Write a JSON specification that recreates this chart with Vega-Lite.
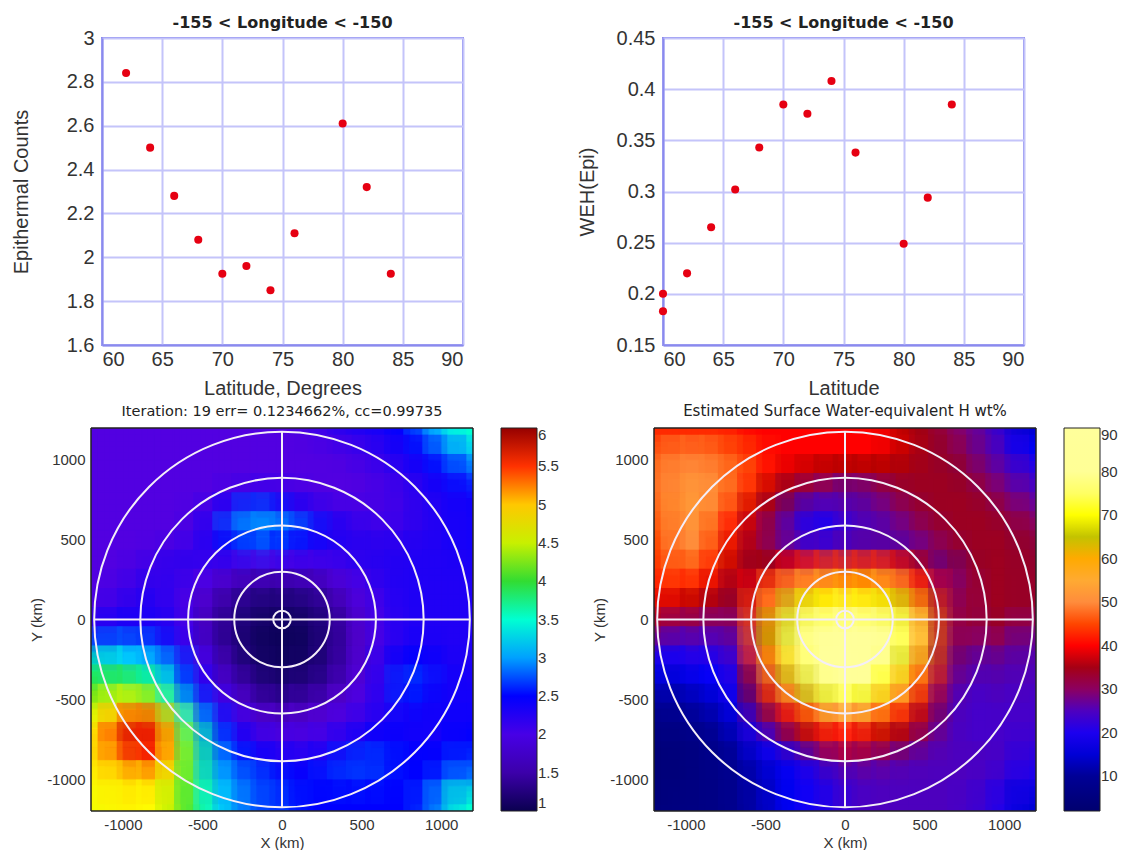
{"$schema":"https://vega.github.io/schema/vega-lite/v6.json","background":"white","padding":{"left":10,"top":14,"right":0,"bottom":0},"spacing":390,"bounds":"flush",
"config":{"font":"Liberation Sans","view":{"stroke":null},"axis":{"labelColor":"#333","titleColor":"#333","titleFontWeight":"normal"},"title":{"font":"DejaVu Sans","fontWeight":"bold","color":"#222"}},
"datasets":{"a":[{"lat":62,"c":2.84},{"lat":64,"c":2.5},{"lat":66,"c":2.28},{"lat":68,"c":2.08},{"lat":70,"c":1.925},{"lat":72,"c":1.96},{"lat":74,"c":1.85},{"lat":76,"c":2.11},{"lat":80,"c":2.61},{"lat":82,"c":2.32},{"lat":84,"c":1.925}],
"b":[{"lat":60,"w":0.2},{"lat":60,"w":0.183},{"lat":62,"w":0.22},{"lat":64,"w":0.265},{"lat":66,"w":0.302},{"lat":68,"w":0.343},{"lat":70,"w":0.385},{"lat":72,"w":0.376},{"lat":74,"w":0.408},{"lat":76,"w":0.338},{"lat":80,"w":0.249},{"lat":82,"w":0.294},{"lat":84,"w":0.385}],
"rings":[{"r":55},{"r":300},{"r":590},{"r":890},{"r":1180}],
"grid":[
{"x":-1140,"y":1140,"e":1.9,"w":42},{"x":-1020,"y":1140,"e":1.9,"w":42},{"x":-900,"y":1140,"e":1.9,"w":42},{"x":-780,"y":1140,"e":1.9,"w":42},{"x":-660,"y":1140,"e":1.9,"w":41},{"x":-540,"y":1140,"e":1.9,"w":40},{"x":-420,"y":1140,"e":1.9,"w":40},{"x":-300,"y":1140,"e":1.9,"w":40},{"x":-180,"y":1140,"e":1.9,"w":40},{"x":-60,"y":1140,"e":1.9,"w":40},{"x":60,"y":1140,"e":1.9,"w":40},{"x":180,"y":1140,"e":2.0,"w":40},{"x":300,"y":1140,"e":2.1,"w":39},{"x":420,"y":1140,"e":2.2,"w":36},{"x":540,"y":1140,"e":2.3,"w":34},{"x":660,"y":1140,"e":2.4,"w":31},{"x":780,"y":1140,"e":2.5,"w":29},{"x":900,"y":1140,"e":2.8,"w":27},{"x":1020,"y":1140,"e":3.2,"w":22},{"x":1140,"y":1140,"e":3.5,"w":15},
{"x":-1140,"y":1020,"e":1.9,"w":47},{"x":-1020,"y":1020,"e":1.9,"w":48},{"x":-900,"y":1020,"e":1.9,"w":48},{"x":-780,"y":1020,"e":1.9,"w":47},{"x":-660,"y":1020,"e":1.9,"w":44},{"x":-540,"y":1020,"e":1.9,"w":42},{"x":-420,"y":1020,"e":1.9,"w":40},{"x":-300,"y":1020,"e":1.9,"w":40},{"x":-180,"y":1020,"e":1.9,"w":40},{"x":-60,"y":1020,"e":1.9,"w":40},{"x":60,"y":1020,"e":1.9,"w":40},{"x":180,"y":1020,"e":1.9,"w":40},{"x":300,"y":1020,"e":1.95,"w":39},{"x":420,"y":1020,"e":2.0,"w":37},{"x":540,"y":1020,"e":2.1,"w":34},{"x":660,"y":1020,"e":2.2,"w":32},{"x":780,"y":1020,"e":2.4,"w":30},{"x":900,"y":1020,"e":2.5,"w":28},{"x":1020,"y":1020,"e":2.8,"w":24},{"x":1140,"y":1020,"e":3.1,"w":18},
{"x":-1140,"y":900,"e":1.9,"w":48},{"x":-1020,"y":900,"e":1.9,"w":50},{"x":-900,"y":900,"e":1.9,"w":50},{"x":-780,"y":900,"e":1.9,"w":49},{"x":-660,"y":900,"e":1.9,"w":47},{"x":-540,"y":900,"e":1.9,"w":43},{"x":-420,"y":900,"e":1.9,"w":40},{"x":-300,"y":900,"e":1.9,"w":38},{"x":-180,"y":900,"e":1.9,"w":37},{"x":-60,"y":900,"e":1.9,"w":36},{"x":60,"y":900,"e":1.9,"w":36},{"x":180,"y":900,"e":1.9,"w":36},{"x":300,"y":900,"e":1.9,"w":36},{"x":420,"y":900,"e":1.9,"w":35},{"x":540,"y":900,"e":2.0,"w":34},{"x":660,"y":900,"e":2.1,"w":33},{"x":780,"y":900,"e":2.2,"w":32},{"x":900,"y":900,"e":2.4,"w":29},{"x":1020,"y":900,"e":2.5,"w":27},{"x":1140,"y":900,"e":2.7,"w":23},
{"x":-1140,"y":780,"e":1.9,"w":48},{"x":-1020,"y":780,"e":1.9,"w":51},{"x":-900,"y":780,"e":1.9,"w":52},{"x":-780,"y":780,"e":1.9,"w":50},{"x":-660,"y":780,"e":1.9,"w":46},{"x":-540,"y":780,"e":1.9,"w":41},{"x":-420,"y":780,"e":1.9,"w":36},{"x":-300,"y":780,"e":2.0,"w":32},{"x":-180,"y":780,"e":2.05,"w":30},{"x":-60,"y":780,"e":2.1,"w":29},{"x":60,"y":780,"e":2.0,"w":28},{"x":180,"y":780,"e":1.95,"w":29},{"x":300,"y":780,"e":1.9,"w":31},{"x":420,"y":780,"e":1.9,"w":33},{"x":540,"y":780,"e":1.9,"w":34},{"x":660,"y":780,"e":2.0,"w":34},{"x":780,"y":780,"e":2.1,"w":33},{"x":900,"y":780,"e":2.2,"w":31},{"x":1020,"y":780,"e":2.4,"w":29},{"x":1140,"y":780,"e":2.45,"w":26},
{"x":-1140,"y":660,"e":1.9,"w":47},{"x":-1020,"y":660,"e":1.9,"w":52},{"x":-900,"y":660,"e":1.9,"w":52},{"x":-780,"y":660,"e":1.9,"w":49},{"x":-660,"y":660,"e":1.9,"w":43},{"x":-540,"y":660,"e":1.95,"w":37},{"x":-420,"y":660,"e":2.1,"w":32},{"x":-300,"y":660,"e":2.4,"w":28},{"x":-180,"y":660,"e":2.7,"w":23},{"x":-60,"y":660,"e":2.6,"w":24},{"x":60,"y":660,"e":2.4,"w":27},{"x":180,"y":660,"e":2.2,"w":28},{"x":300,"y":660,"e":2.05,"w":29},{"x":420,"y":660,"e":2.0,"w":31},{"x":540,"y":660,"e":2.0,"w":33},{"x":660,"y":660,"e":2.0,"w":34},{"x":780,"y":660,"e":2.1,"w":34},{"x":900,"y":660,"e":2.2,"w":33},{"x":1020,"y":660,"e":2.3,"w":31},{"x":1140,"y":660,"e":2.4,"w":29},
{"x":-1140,"y":540,"e":1.9,"w":46},{"x":-1020,"y":540,"e":1.9,"w":51},{"x":-900,"y":540,"e":1.9,"w":51},{"x":-780,"y":540,"e":1.9,"w":46},{"x":-660,"y":540,"e":1.9,"w":40},{"x":-540,"y":540,"e":2.0,"w":34},{"x":-420,"y":540,"e":2.3,"w":29},{"x":-300,"y":540,"e":2.8,"w":24},{"x":-180,"y":540,"e":3.0,"w":19},{"x":-60,"y":540,"e":3.0,"w":20},{"x":60,"y":540,"e":2.9,"w":24},{"x":180,"y":540,"e":2.6,"w":26},{"x":300,"y":540,"e":2.4,"w":27},{"x":420,"y":540,"e":2.2,"w":29},{"x":540,"y":540,"e":2.1,"w":31},{"x":660,"y":540,"e":2.1,"w":33},{"x":780,"y":540,"e":2.1,"w":34},{"x":900,"y":540,"e":2.2,"w":34},{"x":1020,"y":540,"e":2.3,"w":33},{"x":1140,"y":540,"e":2.4,"w":31},
{"x":-1140,"y":420,"e":1.9,"w":45},{"x":-1020,"y":420,"e":1.9,"w":50},{"x":-900,"y":420,"e":1.9,"w":50},{"x":-780,"y":420,"e":1.95,"w":44},{"x":-660,"y":420,"e":2.0,"w":38},{"x":-540,"y":420,"e":2.1,"w":33},{"x":-420,"y":420,"e":2.3,"w":30},{"x":-300,"y":420,"e":2.5,"w":27},{"x":-180,"y":420,"e":2.6,"w":24},{"x":-60,"y":420,"e":2.6,"w":25},{"x":60,"y":420,"e":2.5,"w":27},{"x":180,"y":420,"e":2.4,"w":28},{"x":300,"y":420,"e":2.3,"w":28},{"x":420,"y":420,"e":2.2,"w":28},{"x":540,"y":420,"e":2.2,"w":29},{"x":660,"y":420,"e":2.2,"w":31},{"x":780,"y":420,"e":2.2,"w":33},{"x":900,"y":420,"e":2.3,"w":34},{"x":1020,"y":420,"e":2.3,"w":34},{"x":1140,"y":420,"e":2.4,"w":32},
{"x":-1140,"y":300,"e":1.9,"w":43},{"x":-1020,"y":300,"e":1.9,"w":47},{"x":-900,"y":300,"e":2.0,"w":46},{"x":-780,"y":300,"e":2.1,"w":41},{"x":-660,"y":300,"e":2.2,"w":36},{"x":-540,"y":300,"e":2.15,"w":33},{"x":-420,"y":300,"e":2.1,"w":36},{"x":-300,"y":300,"e":2.0,"w":40},{"x":-180,"y":300,"e":1.9,"w":42},{"x":-60,"y":300,"e":1.9,"w":43},{"x":60,"y":300,"e":1.9,"w":43},{"x":180,"y":300,"e":1.95,"w":42},{"x":300,"y":300,"e":2.0,"w":42},{"x":420,"y":300,"e":2.1,"w":38},{"x":540,"y":300,"e":2.2,"w":32},{"x":660,"y":300,"e":2.2,"w":28},{"x":780,"y":300,"e":2.3,"w":32},{"x":900,"y":300,"e":2.3,"w":34},{"x":1020,"y":300,"e":2.3,"w":34},{"x":1140,"y":300,"e":2.3,"w":33},
{"x":-1140,"y":180,"e":1.9,"w":41},{"x":-1020,"y":180,"e":2.0,"w":43},{"x":-900,"y":180,"e":2.1,"w":41},{"x":-780,"y":180,"e":2.2,"w":38},{"x":-660,"y":180,"e":2.1,"w":33},{"x":-540,"y":180,"e":2.0,"w":40},{"x":-420,"y":180,"e":1.8,"w":47},{"x":-300,"y":180,"e":1.6,"w":52},{"x":-180,"y":180,"e":1.5,"w":56},{"x":-60,"y":180,"e":1.45,"w":58},{"x":60,"y":180,"e":1.45,"w":60},{"x":180,"y":180,"e":1.5,"w":60},{"x":300,"y":180,"e":1.6,"w":55},{"x":420,"y":180,"e":1.85,"w":48},{"x":540,"y":180,"e":2.0,"w":40},{"x":660,"y":180,"e":2.2,"w":30},{"x":780,"y":180,"e":2.3,"w":30},{"x":900,"y":180,"e":2.3,"w":34},{"x":1020,"y":180,"e":2.3,"w":34},{"x":1140,"y":180,"e":2.3,"w":33},
{"x":-1140,"y":60,"e":2.0,"w":38},{"x":-1020,"y":60,"e":2.1,"w":38},{"x":-900,"y":60,"e":2.2,"w":36},{"x":-780,"y":60,"e":2.3,"w":34},{"x":-660,"y":60,"e":2.1,"w":32},{"x":-540,"y":60,"e":1.9,"w":44},{"x":-420,"y":60,"e":1.6,"w":54},{"x":-300,"y":60,"e":1.4,"w":64},{"x":-180,"y":60,"e":1.25,"w":70},{"x":-60,"y":60,"e":1.2,"w":70},{"x":60,"y":60,"e":1.2,"w":72},{"x":180,"y":60,"e":1.25,"w":70},{"x":300,"y":60,"e":1.4,"w":68},{"x":420,"y":60,"e":1.65,"w":62},{"x":540,"y":60,"e":1.95,"w":47},{"x":660,"y":60,"e":2.1,"w":33},{"x":780,"y":60,"e":2.35,"w":30},{"x":900,"y":60,"e":2.3,"w":34},{"x":1020,"y":60,"e":2.3,"w":34},{"x":1140,"y":60,"e":2.3,"w":33},
{"x":-1140,"y":-60,"e":2.3,"w":31},{"x":-1020,"y":-60,"e":2.3,"w":30},{"x":-900,"y":-60,"e":2.4,"w":30},{"x":-780,"y":-60,"e":2.3,"w":29},{"x":-660,"y":-60,"e":2.2,"w":30},{"x":-540,"y":-60,"e":1.9,"w":46},{"x":-420,"y":-60,"e":1.5,"w":64},{"x":-300,"y":-60,"e":1.3,"w":74},{"x":-180,"y":-60,"e":1.2,"w":80},{"x":-60,"y":-60,"e":1.1,"w":82},{"x":60,"y":-60,"e":1.1,"w":82},{"x":180,"y":-60,"e":1.15,"w":82},{"x":300,"y":-60,"e":1.3,"w":78},{"x":420,"y":-60,"e":1.5,"w":72},{"x":540,"y":-60,"e":1.85,"w":52},{"x":660,"y":-60,"e":2.1,"w":35},{"x":780,"y":-60,"e":2.3,"w":30},{"x":900,"y":-60,"e":2.3,"w":33},{"x":1020,"y":-60,"e":2.3,"w":33},{"x":1140,"y":-60,"e":2.3,"w":30},
{"x":-1140,"y":-180,"e":2.8,"w":25},{"x":-1020,"y":-180,"e":2.7,"w":24},{"x":-900,"y":-180,"e":2.8,"w":24},{"x":-780,"y":-180,"e":2.6,"w":24},{"x":-660,"y":-180,"e":2.3,"w":28},{"x":-540,"y":-180,"e":2.0,"w":46},{"x":-420,"y":-180,"e":1.55,"w":64},{"x":-300,"y":-180,"e":1.3,"w":76},{"x":-180,"y":-180,"e":1.15,"w":84},{"x":-60,"y":-180,"e":1.05,"w":90},{"x":60,"y":-180,"e":1.05,"w":90},{"x":180,"y":-180,"e":1.1,"w":88},{"x":300,"y":-180,"e":1.3,"w":82},{"x":420,"y":-180,"e":1.5,"w":72},{"x":540,"y":-180,"e":1.8,"w":52},{"x":660,"y":-180,"e":2.1,"w":34},{"x":780,"y":-180,"e":2.3,"w":29},{"x":900,"y":-180,"e":2.4,"w":30},{"x":1020,"y":-180,"e":2.3,"w":30},{"x":1140,"y":-180,"e":2.3,"w":28},
{"x":-1140,"y":-300,"e":3.6,"w":18},{"x":-1020,"y":-300,"e":3.3,"w":19},{"x":-900,"y":-300,"e":3.3,"w":20},{"x":-780,"y":-300,"e":3.1,"w":20},{"x":-660,"y":-300,"e":2.8,"w":24},{"x":-540,"y":-300,"e":2.3,"w":42},{"x":-420,"y":-300,"e":1.8,"w":58},{"x":-300,"y":-300,"e":1.4,"w":72},{"x":-180,"y":-300,"e":1.2,"w":84},{"x":-60,"y":-300,"e":1.1,"w":90},{"x":60,"y":-300,"e":1.1,"w":90},{"x":180,"y":-300,"e":1.15,"w":86},{"x":300,"y":-300,"e":1.3,"w":78},{"x":420,"y":-300,"e":1.55,"w":66},{"x":540,"y":-300,"e":1.85,"w":48},{"x":660,"y":-300,"e":2.2,"w":32},{"x":780,"y":-300,"e":2.5,"w":27},{"x":900,"y":-300,"e":2.5,"w":28},{"x":1020,"y":-300,"e":2.4,"w":28},{"x":1140,"y":-300,"e":2.3,"w":26},
{"x":-1140,"y":-420,"e":4.0,"w":14},{"x":-1020,"y":-420,"e":3.9,"w":15},{"x":-900,"y":-420,"e":3.9,"w":17},{"x":-780,"y":-420,"e":3.6,"w":18},{"x":-660,"y":-420,"e":3.1,"w":22},{"x":-540,"y":-420,"e":2.5,"w":36},{"x":-420,"y":-420,"e":2.0,"w":50},{"x":-300,"y":-420,"e":1.6,"w":64},{"x":-180,"y":-420,"e":1.4,"w":76},{"x":-60,"y":-420,"e":1.2,"w":84},{"x":60,"y":-420,"e":1.2,"w":86},{"x":180,"y":-420,"e":1.3,"w":80},{"x":300,"y":-420,"e":1.4,"w":70},{"x":420,"y":-420,"e":1.65,"w":56},{"x":540,"y":-420,"e":1.9,"w":44},{"x":660,"y":-420,"e":2.3,"w":30},{"x":780,"y":-420,"e":2.6,"w":25},{"x":900,"y":-420,"e":2.6,"w":26},{"x":1020,"y":-420,"e":2.4,"w":26},{"x":1140,"y":-420,"e":2.4,"w":25},
{"x":-1140,"y":-540,"e":4.4,"w":10},{"x":-1020,"y":-540,"e":4.6,"w":11},{"x":-900,"y":-540,"e":4.6,"w":13},{"x":-780,"y":-540,"e":4.3,"w":15},{"x":-660,"y":-540,"e":3.5,"w":19},{"x":-540,"y":-540,"e":2.8,"w":32},{"x":-420,"y":-540,"e":2.3,"w":42},{"x":-300,"y":-540,"e":1.9,"w":52},{"x":-180,"y":-540,"e":1.6,"w":64},{"x":-60,"y":-540,"e":1.4,"w":72},{"x":60,"y":-540,"e":1.4,"w":74},{"x":180,"y":-540,"e":1.5,"w":68},{"x":300,"y":-540,"e":1.6,"w":57},{"x":420,"y":-540,"e":1.8,"w":48},{"x":540,"y":-540,"e":2.0,"w":38},{"x":660,"y":-540,"e":2.3,"w":28},{"x":780,"y":-540,"e":2.55,"w":24},{"x":900,"y":-540,"e":2.5,"w":24},{"x":1020,"y":-540,"e":2.4,"w":25},{"x":1140,"y":-540,"e":2.4,"w":24},
{"x":-1140,"y":-660,"e":4.8,"w":7},{"x":-1020,"y":-660,"e":5.1,"w":8},{"x":-900,"y":-660,"e":5.5,"w":10},{"x":-780,"y":-660,"e":5.3,"w":12},{"x":-660,"y":-660,"e":4.5,"w":16},{"x":-540,"y":-660,"e":3.4,"w":26},{"x":-420,"y":-660,"e":2.6,"w":33},{"x":-300,"y":-660,"e":2.2,"w":40},{"x":-180,"y":-660,"e":1.9,"w":46},{"x":-60,"y":-660,"e":1.7,"w":50},{"x":60,"y":-660,"e":1.7,"w":50},{"x":180,"y":-660,"e":1.75,"w":48},{"x":300,"y":-660,"e":1.85,"w":44},{"x":420,"y":-660,"e":2.0,"w":39},{"x":540,"y":-660,"e":2.15,"w":32},{"x":660,"y":-660,"e":2.3,"w":27},{"x":780,"y":-660,"e":2.4,"w":24},{"x":900,"y":-660,"e":2.4,"w":24},{"x":1020,"y":-660,"e":2.4,"w":24},{"x":1140,"y":-660,"e":2.45,"w":24},
{"x":-1140,"y":-780,"e":5.0,"w":5},{"x":-1020,"y":-780,"e":5.5,"w":6},{"x":-900,"y":-780,"e":5.85,"w":7},{"x":-780,"y":-780,"e":5.7,"w":9},{"x":-660,"y":-780,"e":4.9,"w":13},{"x":-540,"y":-780,"e":3.8,"w":20},{"x":-420,"y":-780,"e":3.0,"w":25},{"x":-300,"y":-780,"e":2.5,"w":32},{"x":-180,"y":-780,"e":2.2,"w":37},{"x":-60,"y":-780,"e":2.0,"w":40},{"x":60,"y":-780,"e":2.0,"w":40},{"x":180,"y":-780,"e":2.0,"w":38},{"x":300,"y":-780,"e":2.1,"w":36},{"x":420,"y":-780,"e":2.3,"w":33},{"x":540,"y":-780,"e":2.4,"w":29},{"x":660,"y":-780,"e":2.5,"w":26},{"x":780,"y":-780,"e":2.45,"w":24},{"x":900,"y":-780,"e":2.4,"w":24},{"x":1020,"y":-780,"e":2.4,"w":24},{"x":1140,"y":-780,"e":2.5,"w":23},
{"x":-1140,"y":-900,"e":4.9,"w":4},{"x":-1020,"y":-900,"e":5.2,"w":5},{"x":-900,"y":-900,"e":5.6,"w":6},{"x":-780,"y":-900,"e":5.5,"w":8},{"x":-660,"y":-900,"e":4.8,"w":10},{"x":-540,"y":-900,"e":3.9,"w":15},{"x":-420,"y":-900,"e":3.1,"w":18},{"x":-300,"y":-900,"e":2.7,"w":21},{"x":-180,"y":-900,"e":2.5,"w":26},{"x":-60,"y":-900,"e":2.4,"w":30},{"x":60,"y":-900,"e":2.3,"w":30},{"x":180,"y":-900,"e":2.3,"w":30},{"x":300,"y":-900,"e":2.4,"w":29},{"x":420,"y":-900,"e":2.55,"w":27},{"x":540,"y":-900,"e":2.6,"w":26},{"x":660,"y":-900,"e":2.6,"w":25},{"x":780,"y":-900,"e":2.5,"w":25},{"x":900,"y":-900,"e":2.5,"w":25},{"x":1020,"y":-900,"e":2.5,"w":24},{"x":1140,"y":-900,"e":2.6,"w":22},
{"x":-1140,"y":-1020,"e":4.8,"w":4},{"x":-1020,"y":-1020,"e":4.9,"w":5},{"x":-900,"y":-1020,"e":5.0,"w":6},{"x":-780,"y":-1020,"e":5.0,"w":7},{"x":-660,"y":-1020,"e":4.6,"w":9},{"x":-540,"y":-1020,"e":3.9,"w":12},{"x":-420,"y":-1020,"e":3.2,"w":15},{"x":-300,"y":-1020,"e":2.9,"w":18},{"x":-180,"y":-1020,"e":2.7,"w":20},{"x":-60,"y":-1020,"e":2.6,"w":22},{"x":60,"y":-1020,"e":2.5,"w":24},{"x":180,"y":-1020,"e":2.5,"w":25},{"x":300,"y":-1020,"e":2.55,"w":25},{"x":420,"y":-1020,"e":2.6,"w":25},{"x":540,"y":-1020,"e":2.6,"w":25},{"x":660,"y":-1020,"e":2.55,"w":25},{"x":780,"y":-1020,"e":2.5,"w":25},{"x":900,"y":-1020,"e":2.5,"w":24},{"x":1020,"y":-1020,"e":2.6,"w":23},{"x":1140,"y":-1020,"e":2.9,"w":20},
{"x":-1140,"y":-1140,"e":4.7,"w":5},{"x":-1020,"y":-1140,"e":4.8,"w":6},{"x":-900,"y":-1140,"e":4.8,"w":6},{"x":-780,"y":-1140,"e":4.75,"w":7},{"x":-660,"y":-1140,"e":4.4,"w":9},{"x":-540,"y":-1140,"e":3.9,"w":12},{"x":-420,"y":-1140,"e":3.4,"w":15},{"x":-300,"y":-1140,"e":3.0,"w":18},{"x":-180,"y":-1140,"e":2.8,"w":20},{"x":-60,"y":-1140,"e":2.6,"w":22},{"x":60,"y":-1140,"e":2.6,"w":24},{"x":180,"y":-1140,"e":2.5,"w":25},{"x":300,"y":-1140,"e":2.5,"w":25},{"x":420,"y":-1140,"e":2.5,"w":25},{"x":540,"y":-1140,"e":2.5,"w":25},{"x":660,"y":-1140,"e":2.5,"w":25},{"x":780,"y":-1140,"e":2.5,"w":24},{"x":900,"y":-1140,"e":2.6,"w":23},{"x":1020,"y":-1140,"e":3.0,"w":20},{"x":1140,"y":-1140,"e":3.5,"w":15}
]},
"vconcat":[
{"hconcat":[
{"width":11,"height":1,"data":{"values":[{"s":0}]},"mark":{"type":"point","opacity":0},"encoding":{}},
{"width":361,"height":307,"data":{"name":"a"},"title":{"text":"-155 < Longitude < -150","fontSize":16,"offset":-3},"mark":{"type":"circle","size":65,"color":"#e60012","opacity":1},"encoding":{"x":{"field":"lat","type":"quantitative","scale":{"domain":[60,90]},"axis":{"values":[60,65,70,75,80,85,90],"title":"Latitude, Degrees","labelFontSize":20,"titleFontSize":20,"tickSize":0,"labelPadding":4,"titlePadding":9,"domainColor":"#8a8aee","domainWidth":2,"grid":true,"gridColor":"#c4c4fa","gridWidth":2}},"y":{"field":"c","type":"quantitative","scale":{"domain":[1.6,3]},"axis":{"values":[1.6,1.8,2,2.2,2.4,2.6,2.8,3],"format":"~g","title":"Epithermal Counts","labelFontSize":20,"titleFontSize":20,"tickSize":0,"labelPadding":8,"titlePadding":35,"domainColor":"#8a8aee","domainWidth":2,"grid":true,"gridColor":"#c4c4fa","gridWidth":2}}},"view":{"stroke":"#8a8aee","strokeWidth":2}},
{"width":200,"height":1,"data":{"values":[{"s":0}]},"mark":{"type":"point","opacity":0},"encoding":{}},
{"width":361,"height":307,"data":{"name":"b"},"title":{"text":"-155 < Longitude < -150","fontSize":16,"offset":-3},"mark":{"type":"circle","size":65,"color":"#e60012","opacity":1},"encoding":{"x":{"field":"lat","type":"quantitative","scale":{"domain":[60,90]},"axis":{"values":[60,65,70,75,80,85,90],"title":"Latitude","labelFontSize":20,"titleFontSize":20,"tickSize":0,"labelPadding":4,"titlePadding":9,"domainColor":"#8a8aee","domainWidth":2,"grid":true,"gridColor":"#c4c4fa","gridWidth":2}},"y":{"field":"w","type":"quantitative","scale":{"domain":[0.15,0.45]},"axis":{"values":[0.15,0.2,0.25,0.3,0.35,0.4,0.45],"format":"~g","title":"WEH(Epi)","labelFontSize":20,"titleFontSize":20,"tickSize":0,"labelPadding":8,"titlePadding":19,"domainColor":"#8a8aee","domainWidth":2,"grid":true,"gridColor":"#c4c4fa","gridWidth":2}}},"view":{"stroke":"#8a8aee","strokeWidth":2}}
],"spacing":0,"bounds":"flush"},
{"hconcat":[
{"width":382,"height":383,"title":{"text":"Iteration: 19 err= 0.1234662%, cc=0.99735","fontSize":14.5,"fontWeight":"normal","offset":8},"layer":[
{"data":{"name":"grid"},"mark":{"type":"rect","width":20,"height":20,"clip":true},"encoding":{"x":{"field":"x","type":"quantitative","scale":{"domain":[-1200,1200]},"axis":{"values":[-1000,-500,0,500,1000],"labelExpr":"datum.value+''","title":"X (km)","labelFontSize":15,"titleFontSize":15,"tickSize":0,"labelPadding":6,"titlePadding":3,"grid":false,"domain":false}},"y":{"field":"y","type":"quantitative","scale":{"domain":[-1200,1200]},"axis":{"values":[-1000,-500,0,500,1000],"labelExpr":"datum.value+''","title":"Y (km)","labelFontSize":15,"titleFontSize":15,"tickSize":0,"labelPadding":6,"titlePadding":2,"grid":false,"domain":false}},"color":{"field":"e","type":"quantitative","scale":{"domain":[1,1.5,1.8,2.2,2.5,2.8,3,3.4,3.7,4,4.5,4.75,5,5.25,5.5,5.75,6],"range":["#0a0050","#3c00aa","#5a00dc","#2800f0","#0000ff","#0064ff","#00a0ff","#00fff0","#00ff78","#32dc32","#c8f000","#ffff00","#ffc800","#ff8200","#ff3200","#f00000","#960000"]},"legend":{"orient":"none","legendX":410,"legendY":0,"title":null,"gradientLength":383,"gradientThickness":36,"gradientStrokeColor":"#222","gradientStrokeWidth":1,"values":[1,1.5,2,2.5,3,3.5,4,4.5,5,5.5,6],"labelExpr":"datum.value+''","labelFontSize":15,"labelColor":"#333","labelOffset":1,"labelOverlap":false}}}},
{"data":{"name":"grid"},"mark":{"type":"rect","width":30,"height":30,"opacity":0.5,"clip":true},"encoding":{"x":{"field":"x","type":"quantitative"},"y":{"field":"y","type":"quantitative"},"color":{"field":"e","type":"quantitative","legend":null}}},
{"data":{"name":"grid"},"mark":{"type":"rect","width":44,"height":44,"opacity":0.4,"clip":true},"encoding":{"x":{"field":"x","type":"quantitative"},"y":{"field":"y","type":"quantitative"},"color":{"field":"e","type":"quantitative","legend":null}}},
{"data":{"name":"rings"},"mark":{"type":"point","filled":false,"stroke":"#f4eef8","strokeWidth":2,"opacity":1},"encoding":{"x":{"datum":0,"type":"quantitative"},"y":{"datum":0,"type":"quantitative"},"size":{"field":"r","type":"quantitative","legend":null,"scale":{"type":"pow","exponent":2,"domain":[0,1200],"range":[0,145924]}}}},
{"data":{"values":[{"a":-1180,"b":1180}]},"mark":{"type":"rule","color":"#f4eef8","strokeWidth":2},"encoding":{"x":{"field":"a","type":"quantitative"},"x2":{"field":"b"},"y":{"datum":0,"type":"quantitative"}}},
{"data":{"values":[{"a":-1180,"b":1180}]},"mark":{"type":"rule","color":"#f4eef8","strokeWidth":2},"encoding":{"y":{"field":"a","type":"quantitative"},"y2":{"field":"b"},"x":{"datum":0,"type":"quantitative"}}},
{"data":{"values":[{"a":-1200},{"a":1200}]},"mark":{"type":"rule","color":"#222","strokeWidth":1.5},"encoding":{"x":{"field":"a","type":"quantitative"}}},
{"data":{"values":[{"a":-1200},{"a":1200}]},"mark":{"type":"rule","color":"#222","strokeWidth":1.5},"encoding":{"y":{"field":"a","type":"quantitative"}}}
]},
{"width":382,"height":383,"title":{"text":"Estimated Surface Water-equivalent H wt%","fontSize":15,"fontWeight":"normal","offset":8},"layer":[
{"data":{"name":"grid"},"mark":{"type":"rect","width":20,"height":20,"clip":true},"encoding":{"x":{"field":"x","type":"quantitative","scale":{"domain":[-1200,1200]},"axis":{"values":[-1000,-500,0,500,1000],"labelExpr":"datum.value+''","title":"X (km)","labelFontSize":15,"titleFontSize":15,"tickSize":0,"labelPadding":6,"titlePadding":3,"grid":false,"domain":false}},"y":{"field":"y","type":"quantitative","scale":{"domain":[-1200,1200]},"axis":{"values":[-1000,-500,0,500,1000],"labelExpr":"datum.value+''","title":"Y (km)","labelFontSize":15,"titleFontSize":15,"tickSize":0,"labelPadding":6,"titlePadding":2,"grid":false,"domain":false}},"color":{"field":"w","type":"quantitative","scale":{"domain":[2,10,18,22,28,32,36,40,45,50,55,60,63,67,70,80,90],"range":["#000000","#000096","#0000ff","#2800e0","#5a00a0","#8c0032","#aa0000","#ff0000","#ff4600","#ff8c3c","#ffaa32","#ffaa00","#aaaa00","#dcdc00","#ffff00","#ffff96","#ffffff"]},"legend":{"orient":"none","legendX":410,"legendY":0,"title":null,"gradientLength":383,"gradientThickness":36,"gradientStrokeColor":"#222","gradientStrokeWidth":1,"values":[10,20,30,40,50,60,70,80,90],"labelExpr":"datum.value+''","labelFontSize":15,"labelColor":"#333","labelOffset":1,"labelOverlap":false}}}},
{"data":{"name":"grid"},"mark":{"type":"rect","width":30,"height":30,"opacity":0.5,"clip":true},"encoding":{"x":{"field":"x","type":"quantitative"},"y":{"field":"y","type":"quantitative"},"color":{"field":"w","type":"quantitative","legend":null}}},
{"data":{"name":"grid"},"mark":{"type":"rect","width":44,"height":44,"opacity":0.4,"clip":true},"encoding":{"x":{"field":"x","type":"quantitative"},"y":{"field":"y","type":"quantitative"},"color":{"field":"w","type":"quantitative","legend":null}}},
{"data":{"name":"rings"},"mark":{"type":"point","filled":false,"stroke":"#f4eef8","strokeWidth":2,"opacity":1},"encoding":{"x":{"datum":0,"type":"quantitative"},"y":{"datum":0,"type":"quantitative"},"size":{"field":"r","type":"quantitative","legend":null,"scale":{"type":"pow","exponent":2,"domain":[0,1200],"range":[0,145924]}}}},
{"data":{"values":[{"a":-1180,"b":1180}]},"mark":{"type":"rule","color":"#f4eef8","strokeWidth":2},"encoding":{"x":{"field":"a","type":"quantitative"},"x2":{"field":"b"},"y":{"datum":0,"type":"quantitative"}}},
{"data":{"values":[{"a":-1180,"b":1180}]},"mark":{"type":"rule","color":"#f4eef8","strokeWidth":2},"encoding":{"y":{"field":"a","type":"quantitative"},"y2":{"field":"b"},"x":{"datum":0,"type":"quantitative"}}},
{"data":{"values":[{"a":-1200},{"a":1200}]},"mark":{"type":"rule","color":"#222","strokeWidth":1.5},"encoding":{"x":{"field":"a","type":"quantitative"}}},
{"data":{"values":[{"a":-1200},{"a":1200}]},"mark":{"type":"rule","color":"#222","strokeWidth":1.5},"encoding":{"y":{"field":"a","type":"quantitative"}}}
]}
],"spacing":181,"bounds":"flush","resolve":{"scale":{"color":"independent"},"legend":{"color":"independent"}}}
]}
